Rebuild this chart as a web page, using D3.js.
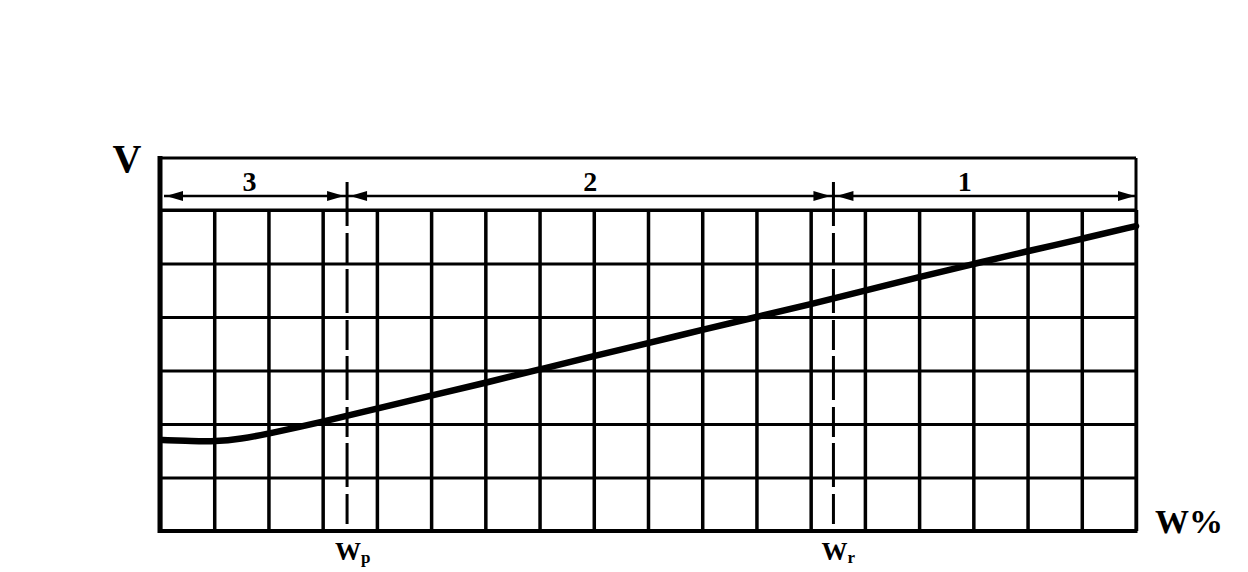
<!DOCTYPE html>
<html><head><meta charset="utf-8">
<script src="https://cdn.jsdelivr.net/npm/d3@7"></script>
<style>html,body{margin:0;padding:0;background:#fff;}svg{display:block;}</style>
</head><body>
<svg id="c" width="1248" height="572"></svg>
<script>
// Data (grid units: W% along x 0..18, V along y 0..6)
const wValues = [0.05, 0.6, 1.0, 1.5, 2.0, 3.0, 4.0, 5.0, 6.0, 7.0, 8.0, 9.0, 10.0, 11.0, 12.0, 13.0, 14.0, 15.0, 16.0, 17.0, 18.0];
const vValues = [1.70, 1.68, 1.67, 1.72, 1.82, 2.04, 2.29, 2.53, 2.77, 3.02, 3.27, 3.51, 3.76, 4.00, 4.24, 4.49, 4.75, 4.99, 5.23, 5.46, 5.70];
const zoneBounds = [0, 3.45, 12.42, 18];
const zoneLabels = ["3", "2", "1"];
const markerNames = ["p", "r"];
const markerValues = [3.45, 12.42];

const svg = d3.select("#c");
const x = d3.scaleLinear().domain([0, 18]).range([160, 1136]);
const y = d3.scaleLinear().domain([0, 6]).range([531, 210]);
const headerTop = 158, arrowY = 196;
const font = "'Liberation Serif', 'DejaVu Serif', serif";

// vertical grid via axis
svg.append("g").attr("transform", `translate(0,${y(0)})`)
  .call(d3.axisBottom(x).ticks(18).tickSize(-(y(0) - y(6))).tickFormat(""))
  .call(g => g.select(".domain").remove())
  .call(g => g.selectAll("line").attr("stroke", "#000").attr("stroke-width", 3.5));
// horizontal grid via axis
svg.append("g").attr("transform", `translate(${x(0)},0)`)
  .call(d3.axisLeft(y).ticks(6).tickSize(-(x(18) - x(0))).tickFormat(""))
  .call(g => g.select(".domain").remove())
  .call(g => g.selectAll("line").attr("stroke", "#000").attr("stroke-width", 3));

// frame
const frame = svg.append("g").attr("stroke", "#000").attr("fill", "none");
frame.append("line").attr("x1", x(0)).attr("x2", x(18)).attr("y1", headerTop).attr("y2", headerTop).attr("stroke-width", 3);
frame.append("line").attr("x1", x(0)).attr("x2", x(18)).attr("y1", y(6)).attr("y2", y(6)).attr("stroke-width", 3);
frame.append("line").attr("x1", x(0)).attr("x2", x(18)).attr("y1", y(0)).attr("y2", y(0)).attr("stroke-width", 4);
frame.append("line").attr("x1", x(0)).attr("x2", x(0)).attr("y1", headerTop - 2).attr("y2", y(0) + 2).attr("stroke-width", 5);
frame.append("line").attr("x1", x(18)).attr("x2", x(18)).attr("y1", headerTop).attr("y2", y(0) + 2).attr("stroke-width", 3);

// arrow line
frame.append("line").attr("x1", x(0) + 4).attr("x2", x(18)).attr("y1", arrowY).attr("y2", arrowY).attr("stroke-width", 2.5);

function arrowHead(px, dir) {
  const L = 17, H = 5;
  return `M${px},${arrowY} L${px - dir * L},${arrowY - H} L${px - dir * L},${arrowY + H} Z`;
}
const heads = [];
heads.push(arrowHead(x(0) + 6, -1));
heads.push(arrowHead(x(18) - 1, 1));
markerValues.forEach(m => {
  heads.push(arrowHead(x(m) - 3, 1));
  heads.push(arrowHead(x(m) + 3, -1));
});
svg.append("g").selectAll("path").data(heads).join("path").attr("d", d => d).attr("fill", "#000");

// dashed marker lines
svg.append("g").selectAll("line").data(markerValues).join("line")
  .attr("x1", d => x(d)).attr("x2", d => x(d))
  .attr("y1", 182).attr("y2", y(0))
  .attr("stroke", "#000").attr("stroke-width", 3)
  .attr("stroke-dasharray", "44,7,30,6");

// zone labels
svg.append("g").selectAll("text").data(zoneLabels).join("text")
  .attr("x", (d, i) => x((zoneBounds[i] + zoneBounds[i + 1]) / 2) + (i === 0 ? -4 : (i === 2 ? -20 : 0)))
  .attr("y", 191)
  .attr("text-anchor", "middle")
  .attr("font-family", font).attr("font-weight", "bold").attr("font-size", 28)
  .text(d => d);

// curve
const line = d3.line().x(d => x(d[0])).y(d => y(d[1])).curve(d3.curveBasis);
svg.append("path").datum(wValues.map((w, i) => [w, vValues[i]]))
  .attr("d", line).attr("fill", "none").attr("stroke", "#000").attr("stroke-width", 6.5).attr("stroke-linecap", "round");

// axis labels
svg.append("text").attr("x", 127).attr("y", 172).attr("text-anchor", "middle")
  .attr("font-family", font).attr("font-weight", "bold").attr("font-size", 40).text("V");

const ml = svg.append("g").selectAll("text").data(markerValues).join("text")
  .attr("x", d => x(d) - 12).attr("y", 560)
  .attr("font-family", font).attr("font-weight", "bold").attr("font-size", 26);
ml.append("tspan").text("W");
ml.append("tspan").attr("font-size", 17).attr("dy", 3).text((d, i) => markerNames[i]);

svg.append("text").attr("x", 1155).attr("y", 533)
  .attr("font-family", font).attr("font-weight", "bold").attr("font-size", 34)
  .text("W%");
</script>
</body></html>
